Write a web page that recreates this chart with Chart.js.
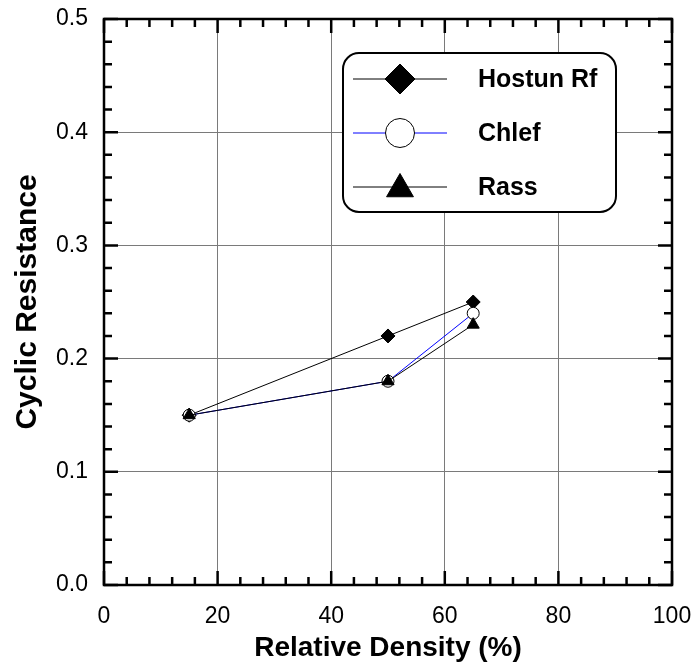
<!DOCTYPE html>
<html>
<head>
<meta charset="utf-8">
<script src="https://cdn.jsdelivr.net/npm/chart.js@4"></script>
<style>
  html, body { margin: 0; padding: 0; background: #fff; }
  #wrap { width: 696px; height: 666px; }
</style>
</head>
<body>
<div id="wrap"><canvas id="chart" width="696" height="666"></canvas></div>
<script>
// Données
const density = [15, 50, 65]
const hostun = [0.15, 0.22, 0.25]
const chlef = [0.15, 0.18, 0.24]
const rass = [0.15, 0.18, 0.23]
const seriesNames = ['Hostun Rf', 'Chlef', 'Rass']

const xTicks = [0, 20, 40, 60, 80, 100]
const yTicks = [0.0, 0.1, 0.2, 0.3, 0.4, 0.5]
const xMinorStep = 4
const yMinorStep = 0.02

Chart.defaults.font.family = '"Liberation Sans", Arial, sans-serif'
Chart.defaults.color = '#000'

function points(ys) {
	return density.map((x, i) => ({ x: x, y: ys[i] }))
}

// Cadre + graduations sur les 4 côtés
const framePlugin = {
	id: 'frame',
	afterDatasetsDraw(chart) {
		const ctx = chart.ctx
		const a = chart.chartArea
		const xs = chart.scales.x
		const ys = chart.scales.y
		ctx.save()
		ctx.strokeStyle = '#000'
		ctx.lineWidth = 2.5
		ctx.lineCap = 'butt'
		ctx.beginPath()
		// graduations x
		for (let v = xTicks[0]; v <= xTicks[xTicks.length - 1] + 1e-9; v += xMinorStep) {
			const px = xs.getPixelForValue(v)
			const len = (Math.abs(v % 20) < 1e-9) ? 14 : 8
			ctx.moveTo(px, a.bottom); ctx.lineTo(px, a.bottom - len)
			ctx.moveTo(px, a.top); ctx.lineTo(px, a.top + len)
		}
		// graduations y
		for (let k = 0; k <= 25; k++) {
			const v = k * yMinorStep
			const py = ys.getPixelForValue(v)
			const len = (k % 5 == 0) ? 14 : 8
			ctx.moveTo(a.left, py); ctx.lineTo(a.left + len, py)
			ctx.moveTo(a.right, py); ctx.lineTo(a.right - len, py)
		}
		ctx.stroke()
		ctx.strokeRect(a.left, a.top, a.right - a.left, a.bottom - a.top)
		ctx.restore()
	},
	afterDraw(chart) {
		// Légende encadrée (coins arrondis)
		const ctx = chart.ctx
		const bx = 343, by = 53, bw = 273, bh = 159
		ctx.save()
		ctx.fillStyle = '#fff'
		ctx.strokeStyle = '#000'
		ctx.lineWidth = 2
		ctx.beginPath()
		ctx.roundRect(bx, by, bw, bh, 16)
		ctx.fill()
		ctx.stroke()
		const rows = [79, 133, 187]
		const sizes = [15, 14.5, 15.5]
		chart.data.datasets.forEach((ds, i) => {
			const y = rows[i]
			ctx.strokeStyle = ds.borderColor
			ctx.lineWidth = 1
			ctx.beginPath()
			ctx.moveTo(353, y); ctx.lineTo(447, y)
			ctx.stroke()
			ctx.fillStyle = ds.pointBackgroundColor
			ctx.strokeStyle = ds.pointBorderColor
			ctx.lineWidth = ds.pointBorderWidth
			Chart.helpers.drawPoint(ctx, { pointStyle: ds.pointStyle, radius: sizes[i], rotation: 0, borderWidth: ds.pointBorderWidth }, 400, ds.pointStyle == 'triangle' ? y + 2 : y)
			ctx.fillStyle = '#000'
			ctx.font = 'bold 25px "Liberation Sans", Arial, sans-serif'
			ctx.textAlign = 'left'
			ctx.textBaseline = 'middle'
			ctx.fillText(ds.label, 478, y + 1)
		})
		ctx.restore()
	}
}

new Chart(document.getElementById('chart'), {
	type: 'scatter',
	data: {
		datasets: [
			{
				label: seriesNames[0],
				data: points(hostun),
				showLine: true,
				borderColor: '#000',
				borderWidth: 1,
				pointStyle: 'rectRot',
				pointRadius: 7,
				pointBackgroundColor: '#000',
				pointBorderColor: '#000',
				pointBorderWidth: 1,
				order: 2
			},
			{
				label: seriesNames[1],
				data: points(chlef),
				showLine: true,
				borderColor: '#0000ff',
				borderWidth: 1,
				pointStyle: 'circle',
				pointRadius: 6,
				pointBackgroundColor: '#fff',
				pointBorderColor: '#000',
				pointBorderWidth: 1,
				order: 1
			},
			{
				label: seriesNames[2],
				data: points(rass),
				showLine: true,
				borderColor: '#000',
				borderWidth: 1,
				pointStyle: 'triangle',
				pointRadius: 7,
				pointBackgroundColor: '#000',
				pointBorderColor: '#000',
				pointBorderWidth: 1,
				order: 0
			}
		]
	},
	options: {
		responsive: false,
		animation: false,
		layout: { padding: { left: 0, top: 19, right: 24, bottom: 0 } },
		plugins: {
			legend: { display: false },
			tooltip: { enabled: false }
		},
		scales: {
			x: {
				type: 'linear',
				min: 0,
				max: 100,
				afterBuildTicks: (s) => { s.ticks = xTicks.map(v => ({ value: v })) },
				afterFit: (s) => { s.height = 81; s.paddingLeft = 0; s.paddingRight = 0 },
				ticks: {
					padding: 18,
					font: { size: 23 },
					color: '#000',
					maxRotation: 0
				},
				grid: { color: '#7a7a7a', lineWidth: 1, drawTicks: false },
				border: { display: false },
				title: {
					display: true,
					text: 'Relative Density (%)',
					font: { size: 28, weight: 'bold' },
					color: '#000',
					padding: { top: 0, bottom: 1 }
				}
			},
			y: {
				type: 'linear',
				min: 0,
				max: 0.5,
				afterBuildTicks: (s) => { s.ticks = yTicks.map(v => ({ value: v })) },
				afterFit: (s) => { s.width = 104; s.paddingTop = 0; s.paddingBottom = 0 },
				ticks: {
					padding: 16,
					font: { size: 23 },
					color: '#000',
					callback: (v) => Number(v).toFixed(1)
				},
				grid: { color: '#7a7a7a', lineWidth: 1, drawTicks: false },
				border: { display: false },
				title: {
					display: true,
					text: 'Cyclic Resistance',
					font: { size: 30, weight: 'bold' },
					color: '#000',
					padding: { top: 10, bottom: 0 }
				}
			}
		}
	},
	plugins: [framePlugin]
})
</script>
</body>
</html>
